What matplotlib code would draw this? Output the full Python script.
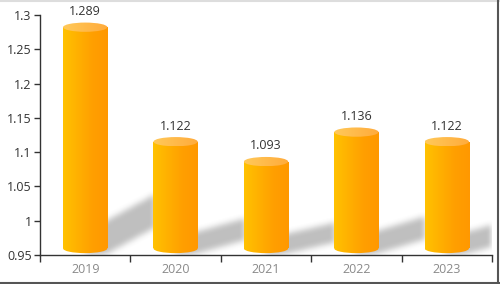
import numpy as np
import matplotlib
matplotlib.use("Agg")
import matplotlib.pyplot as plt
from matplotlib.patches import Rectangle, Ellipse
from matplotlib.lines import Line2D
from matplotlib.colors import LinearSegmentedColormap

plt.rcParams['font.family'] = ['Open Sans', 'DejaVu Sans']

# 数据
years = ['2019', '2020', '2021', '2022', '2023']
values = [1.289, 1.122, 1.093, 1.136, 1.122]
yticks = [0.95, 1.0, 1.05, 1.1, 1.15, 1.2, 1.25, 1.3]
ytick_labels = ['0.95', '1', '1.05', '1.1', '1.15', '1.2', '1.25', '1.3']

ymin, ymax = 0.95, 1.3
bar_w = 0.49
ell_h = 0.0135          # 椭圆高度（数据单位）
base_c = 0.9595         # 底部椭圆中心

body_cmap = LinearSegmentedColormap.from_list(
    'body', ['#ffc200', '#ffb000', '#ff9f00', '#ff9800'])
top_cmap = LinearSegmentedColormap.from_list(
    'top', ['#ffc95a', '#ffba4a', '#ffab3c'])
grad = np.linspace(0, 1, 256).reshape(1, -1)

fig = plt.figure(figsize=(5, 2.84), dpi=100)
ax = fig.add_axes([0.08, 0.1021, 0.904, 0.845])

# 阴影：栅格化后做模糊
nx, ny = 452, 240
xs = np.linspace(-0.5, 4.5, nx)
ys = np.linspace(ymin, ymax, ny)
X, Y = np.meshgrid(xs, ys)
mask = np.zeros_like(X)
px_y = (ymax - ymin) / 240.0
px_x = 5.0 / 452.0
for i, v in enumerate(values):
    xr = i + bar_w / 2
    h_px = (v - ymin) / px_y
    dx = 47 * px_x
    a = (10 + 0.1 * h_px) * px_y
    sd = (0.11 * h_px) * px_y
    yb = 0.952
    t = (X - xr) / dx
    lower = yb + t * sd
    upper = yb + a + t * sd
    inside = (X >= i) & (t <= 1) & (Y >= lower) & (Y <= upper)
    mask[inside] = 1.0

k = np.ones(7) / 7.0
for _ in range(2):
    mask = np.apply_along_axis(lambda r: np.convolve(r, k, mode='same'), 1, mask)
    mask = np.apply_along_axis(lambda c: np.convolve(c, k, mode='same'), 0, mask)
shadow = np.zeros((ny, nx, 4))
shadow[..., :3] = 0.5
shadow[..., 3] = mask * 0.5
ax.imshow(shadow, extent=[-0.5, 4.5, ymin, ymax], origin='lower',
          aspect='auto', zorder=1, interpolation='bilinear')

# 圆柱
for i, v in enumerate(values):
    xl, xr = i - bar_w / 2, i + bar_w / 2
    top_c = v - ell_h / 2
    body_rect = Rectangle((xl, base_c), bar_w, top_c - base_c, transform=ax.transData)
    body_ell = Ellipse((i, base_c), bar_w, ell_h, transform=ax.transData)
    for clip in (body_rect, body_ell):
        im = ax.imshow(grad, cmap=body_cmap, extent=[xl, xr, base_c - ell_h, v],
                       aspect='auto', zorder=2, interpolation='bicubic')
        im.set_clip_path(clip)
    top_ell = Ellipse((i, top_c), bar_w, ell_h, transform=ax.transData)
    im = ax.imshow(grad, cmap=top_cmap, extent=[xl, xr, v - ell_h, v],
                   aspect='auto', zorder=3, interpolation='bicubic')
    im.set_clip_path(top_ell)
    ax.text(i, v + 11 * px_y, f'{v:.3f}', ha='center', va='center',
            fontsize=9, color='#333333', clip_on=False, zorder=4)

ax.set_xlim(-0.5, 4.5)
ax.set_ylim(ymin, ymax)

ax.set_yticks(yticks)
ax.set_yticklabels(ytick_labels)
ax.set_xticks(np.arange(-0.5, 5, 1))
ax.set_xticklabels([])
ax.set_xticks(range(len(years)), minor=True)
ax.set_xticklabels(years, minor=True)
ax.tick_params(axis='x', which='minor', length=0, pad=6, labelsize=9, labelcolor='#8a8a8a')
ax.tick_params(axis='x', which='major', length=5, width=1, color='#333333')
ax.tick_params(axis='y', length=4, width=1, color='#333333', labelsize=9,
               labelcolor='#333333', pad=2)

for s in ['top', 'right']:
    ax.spines[s].set_visible(False)
for s in ['left', 'bottom']:
    ax.spines[s].set_color('#333333')
    ax.spines[s].set_linewidth(1)

# 外框
fig.add_artist(Line2D([0, 1], [0.998, 0.998], transform=fig.transFigure, color='#dddddd', lw=1.5))
fig.add_artist(Line2D([0, 1], [0.004, 0.004], transform=fig.transFigure, color='#555555', lw=1.5))
fig.add_artist(Line2D([0.996, 0.996], [0, 1], transform=fig.transFigure, color='#555555', lw=1.5))

fig.savefig('out.png', dpi=100)
